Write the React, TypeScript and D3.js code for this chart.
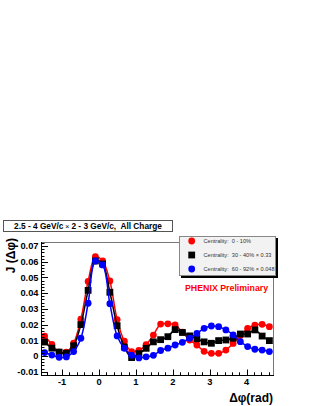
import React from "react";
import * as d3 from "d3";

const W = 313;
const H = 406;

// bin centres (rad), 32 bins over [-pi/2, 3pi/2]
const dphi: number[] = d3.range(32).map((i) => -Math.PI / 2 + (i + 0.5) * (Math.PI / 16));

const central: number[] = [
  0.0127, 0.0074, 0.0024, 0.0025, 0.0082, 0.0234, 0.0475, 0.0633, 0.0605, 0.0478,
  0.0232, 0.0094, 0.0028, 0.0036, 0.0072, 0.0133, 0.0203, 0.0205, 0.0198, 0.0152,
  0.0102, 0.0070, 0.0030, 0.0017, 0.0017, 0.0038, 0.0080, 0.0130, 0.0176, 0.0197,
  0.0202, 0.0187,
];
const midCentral: number[] = [
  0.0089, 0.0050, 0.0025, 0.0018, 0.0065, 0.0200, 0.0418, 0.0605, 0.0586, 0.0406,
  0.0193, 0.0058, -0.0010, 0.0015, 0.0049, 0.0090, 0.0104, 0.0123, 0.0168, 0.0150,
  0.0128, 0.0110, 0.0090, 0.0081, 0.0098, 0.0102, 0.0113, 0.0140, 0.0140, 0.0166,
  0.0127, 0.0098,
];
const peripheral: number[] = [
  0.0022, 0.0006, -0.0008, -0.0006, 0.0028, 0.0113, 0.0336, 0.0605, 0.0580, 0.0333,
  0.0128, 0.0049, 0.0005, -0.0012, -0.0005, 0.0004, 0.0035, 0.0050, 0.0070, 0.0087,
  0.0113, 0.0144, 0.0176, 0.0191, 0.0187, 0.0166, 0.0134, 0.0091, 0.0060, 0.0043,
  0.0038, 0.0028,
];

const seriesNames = [
  "Centrality:  0 - 10%",
  "Centrality:  30 - 40% \u00d7 0.33",
  "Centrality:  60 - 92% \u00d7 0.048",
];
const seriesColors = ["#ff0000", "#000000", "#0000ff"];
const seriesShapes = ["circle", "square", "circle"];

const yTicks = [-0.01, 0, 0.01, 0.02, 0.03, 0.04, 0.05, 0.06, 0.07];
const yTickLabels = ["-0.01", "0", "0.01", "0.02", "0.03", "0.04", "0.05", "0.06", "0.07"];
const xTicks = [-1, 0, 1, 2, 3, 4];

const titleText = "2.5 - 4 GeV/c";
const titleText2 = "2 - 3 GeV/c,  All Charge";

const FONT = "'Liberation Sans', Arial, Helvetica, sans-serif";

export default function App() {
  const left = 41, right = 273, top = 242, bottom = 375;
  const x = d3.scaleLinear().domain([-Math.PI / 2, (3 * Math.PI) / 2]).range([left, right]);
  const y = d3.scaleLinear().domain([-0.0121, 0.0726]).range([bottom, top]);

  const allSeries = [central, midCentral, peripheral];
  const line = d3
    .line<number>()
    .x((_, i) => x(dphi[i]))
    .y((d) => y(d))
    .curve(d3.curveCatmullRom.alpha(0.5));

  const yMinor = d3.range(-0.012, 0.0726, 0.002);
  const xMinor = d3.range(-1.4, 4.75, 0.2);

  const marker = (shape: string, cx: number, cy: number, color: string, key: string | number, r = 3.4) =>
    shape === "square" ? (
      <rect key={key} x={cx - r} y={cy - r} width={2 * r} height={2 * r} fill={color} />
    ) : (
      <circle key={key} cx={cx} cy={cy} r={r} fill={color} />
    );

  return (
    <svg width={W} height={H} style={{ position: "absolute", left: 0, top: 0, background: "#fff" }} fontFamily={FONT}>
      <rect x={0} y={0} width={W} height={H} fill="#fff" />
      {/* title box */}
      <rect x={3.5} y={220.5} width={169} height={11} fill="#fff" stroke="#555" strokeWidth={1} />
      <text x={88} y={229.3} textAnchor="middle" fontSize={8.3} fontWeight="bold" fill="#000" style={{ whiteSpace: "pre" }}>
        {titleText}
        <tspan fontSize={7} fontWeight="normal">{" \u00d7 "}</tspan>
        {titleText2}
      </text>

      {/* frame top / right */}
      <line x1={left} x2={right} y1={top + 0.5} y2={top + 0.5} stroke="#777" strokeWidth={1} />
      <line x1={right + 0.5} x2={right + 0.5} y1={top} y2={bottom} stroke="#777" strokeWidth={1} />

      {/* data */}
      {allSeries.map((s, k) => (
        <g key={k}>
          <path d={line(s) || ""} fill="none" stroke={seriesColors[k]} strokeWidth={1.5} />
          {s.map((v, i) => marker(seriesShapes[k], x(dphi[i]), y(v), seriesColors[k], i))}
        </g>
      ))}

      {/* axes */}
      <line x1={left + 0.5} x2={left + 0.5} y1={top} y2={bottom} stroke="#000" strokeWidth={1} />
      <line x1={left} x2={right + 1} y1={bottom + 0.5} y2={bottom + 0.5} stroke="#000" strokeWidth={1} />
      {yMinor.map((v, i) => (
        <line key={"ym" + i} x1={left} x2={left + 3.5} y1={Math.round(y(v)) + 0.5} y2={Math.round(y(v)) + 0.5} stroke="#000" />
      ))}
      {yTicks.map((v, i) => (
        <g key={"y" + i}>
          <line x1={left} x2={left + 7} y1={Math.round(y(v)) + 0.5} y2={Math.round(y(v)) + 0.5} stroke="#000" />
          <text x={38.5} y={y(v) + 3.3} textAnchor="end" fontSize={9.3} fontWeight="bold" fill="#000">
            {yTickLabels[i]}
          </text>
        </g>
      ))}
      {xMinor.map((v, i) => (
        <line key={"xm" + i} x1={Math.round(x(v)) + 0.5} x2={Math.round(x(v)) + 0.5} y1={bottom} y2={bottom - 2.7} stroke="#000" />
      ))}
      {xTicks.map((v, i) => (
        <g key={"x" + i}>
          <line x1={Math.round(x(v)) + 0.5} x2={Math.round(x(v)) + 0.5} y1={bottom} y2={bottom - 5.5} stroke="#000" />
          <text x={x(v)} y={385} textAnchor="middle" fontSize={9.3} fontWeight="bold" fill="#000">
            {v}
          </text>
        </g>
      ))}

      {/* axis titles */}
      <text x={273} y={401.5} textAnchor="end" fontSize={12} fontWeight="bold" fill="#000">
        {"\u0394\u03c6(rad)"}
      </text>
      <text transform="translate(14.5,238) rotate(-90)" textAnchor="end" fontSize={12} fontWeight="bold" fill="#000" style={{ whiteSpace: "pre" }}>
        {"J (\u0394\u03c6)"}
      </text>

      {/* legend */}
      <rect x={181} y={238} width={97} height={40} fill="#000" />
      <rect x={179.5} y={236.5} width={96} height={39} fill="#f2f2f2" stroke="#888" strokeWidth={1} />
      {seriesNames.map((n, k) => (
        <g key={"lg" + k}>
          {marker(seriesShapes[k], 191.7, 241 + k * 14, seriesColors[k], "m", 3.4)}
          <text x={203.5} y={243} dy={k * 14} fontSize={5.6} fill="#333" style={{ whiteSpace: "pre" }}>
            {n}
          </text>
        </g>
      ))}

      <text x={185} y={290.5} fontSize={8.8} fontWeight="bold" fill="#ff0000">
        PHENIX Preliminary
      </text>
    </svg>
  );
}
